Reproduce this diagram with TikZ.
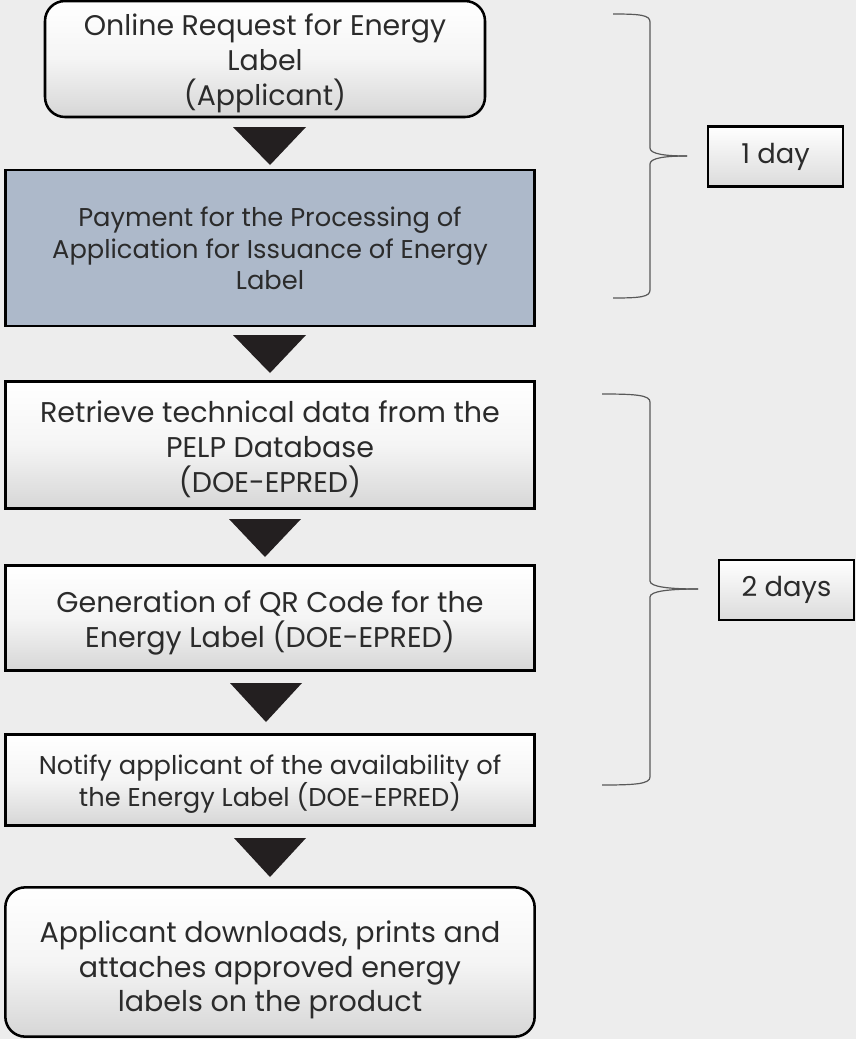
\documentclass[tikz,border=0pt]{standalone}
\usepackage{fontspec}
\setmainfont{Poppins}
\definecolor{bg}{HTML}{EDEDED}
\definecolor{txt}{HTML}{2B2B2B}
\definecolor{bluebox}{HTML}{ADB9CA}
\definecolor{arrowc}{HTML}{231F20}
\definecolor{bracec}{HTML}{595959}
\begin{document}
\begin{tikzpicture}[x=0.75pt,y=-0.75pt,
  box/.style={draw=black,line width=1.9pt,top color=white,bottom color=black!16,middle color=white!96!black,inner sep=0pt},
  rbox/.style={box,rounded corners=15pt},
  bluefill/.style={top color=bluebox,bottom color=bluebox,middle color=bluebox},
  label text/.style={text=txt,align=center,inner sep=0pt},
  daybox/.style={draw=black,line width=1.6pt,top color=white,bottom color=black!14,text=txt,inner sep=0pt,font=\fontsize{20.5}{24}\selectfont},
  tri/.style={fill=arrowc,draw=none},
  bracel/.style={draw=bracec,line width=0.9pt}]
\fill[bg] (0,0) rectangle (856,1039);
\useasboundingbox (0,0) rectangle (856,1039);
% boxes
\node[rbox,minimum width=330pt,minimum height=87pt] (b1) at (265,59) {};
\node[box,bluefill,minimum width=397pt,minimum height=117pt] (b2) at (270,248) {};
\node[box,minimum width=397pt,minimum height=95pt] (b3) at (270,445) {};
\node[box,minimum width=397pt,minimum height=79pt] (b4) at (270,618) {};
\node[box,minimum width=397pt,minimum height=68pt] (b5) at (270,780) {};
\node[rbox,minimum width=397pt,minimum height=112pt] (b6) at (270,962) {};
% texts
\node[label text,font=\fontsize{21.3}{26.25}\selectfont] (t1) at ([yshift=-3pt]b1.center)
  {Online Request for Energy\\Label\\(Applicant)};
\node[label text,font=\fontsize{19.3}{23.6}\selectfont] (t2) at ([yshift=-0.5pt]b2.center)
  {Payment for the Processing of\\Application for Issuance of Energy\\Label};
\node[label text,font=\fontsize{21.4}{26.25}\selectfont] (t3) at ([yshift=-3pt]b3.center)
  {Retrieve technical data from the\\PELP Database\\(DOE-EPRED)};
\node[label text,font=\fontsize{21.4}{26.25}\selectfont] (t4) at ([yshift=-3.6pt]b4.center)
  {Generation of QR Code for the\\Energy Label (DOE-EPRED)};
\node[label text,font=\fontsize{19.3}{22.5}\selectfont] (t5) at ([yshift=-3.3pt]b5.center)
  {Notify applicant of the availability of\\the Energy Label (DOE-EPRED)};
\node[label text,font=\fontsize{21.4}{25.9}\selectfont] (t6) at ([yshift=-6pt]b6.center)
  {Applicant downloads, prints and\\attaches approved energy\\labels on the product};
% arrows
\fill[tri] (233,127) -- (306,127) -- (270,165) -- cycle;
\fill[tri] (233,335) -- (306,335) -- (270,373) -- cycle;
\fill[tri] (229,519) -- (301,519) -- (265,557) -- cycle;
\fill[tri] (230,683) -- (302,683) -- (266,722) -- cycle;
\fill[tri] (234,838) -- (306,838) -- (270,877) -- cycle;
% braces
\coordinate (t1tip) at (687,156);
\coordinate (t2tip) at (698,589);
\draw[bracel] (613,14) .. controls (640,14) and (650,15) .. (650,22)
  -- (650,148) .. controls (650,154) and (665,156) .. (t1tip);
\draw[bracel] (613,298) .. controls (640,298) and (650,297) .. (650,290)
  -- (650,164) .. controls (650,158) and (665,156) .. (t1tip);
\draw[bracel] (602,394) .. controls (635,394) and (650,395) .. (650,402)
  -- (650,581) .. controls (650,587) and (670,589) .. (t2tip);
\draw[bracel] (602,785) .. controls (635,785) and (650,784) .. (650,777)
  -- (650,597) .. controls (650,591) and (670,589) .. (t2tip);
\node[daybox,minimum width=101pt,minimum height=45pt] (d1) at (775.5,156.5) {1 day\hspace{6pt}};
\node[daybox,minimum width=101pt,minimum height=45pt] (d2) at (786.5,590) {2 days};
\end{tikzpicture}
\end{document}
